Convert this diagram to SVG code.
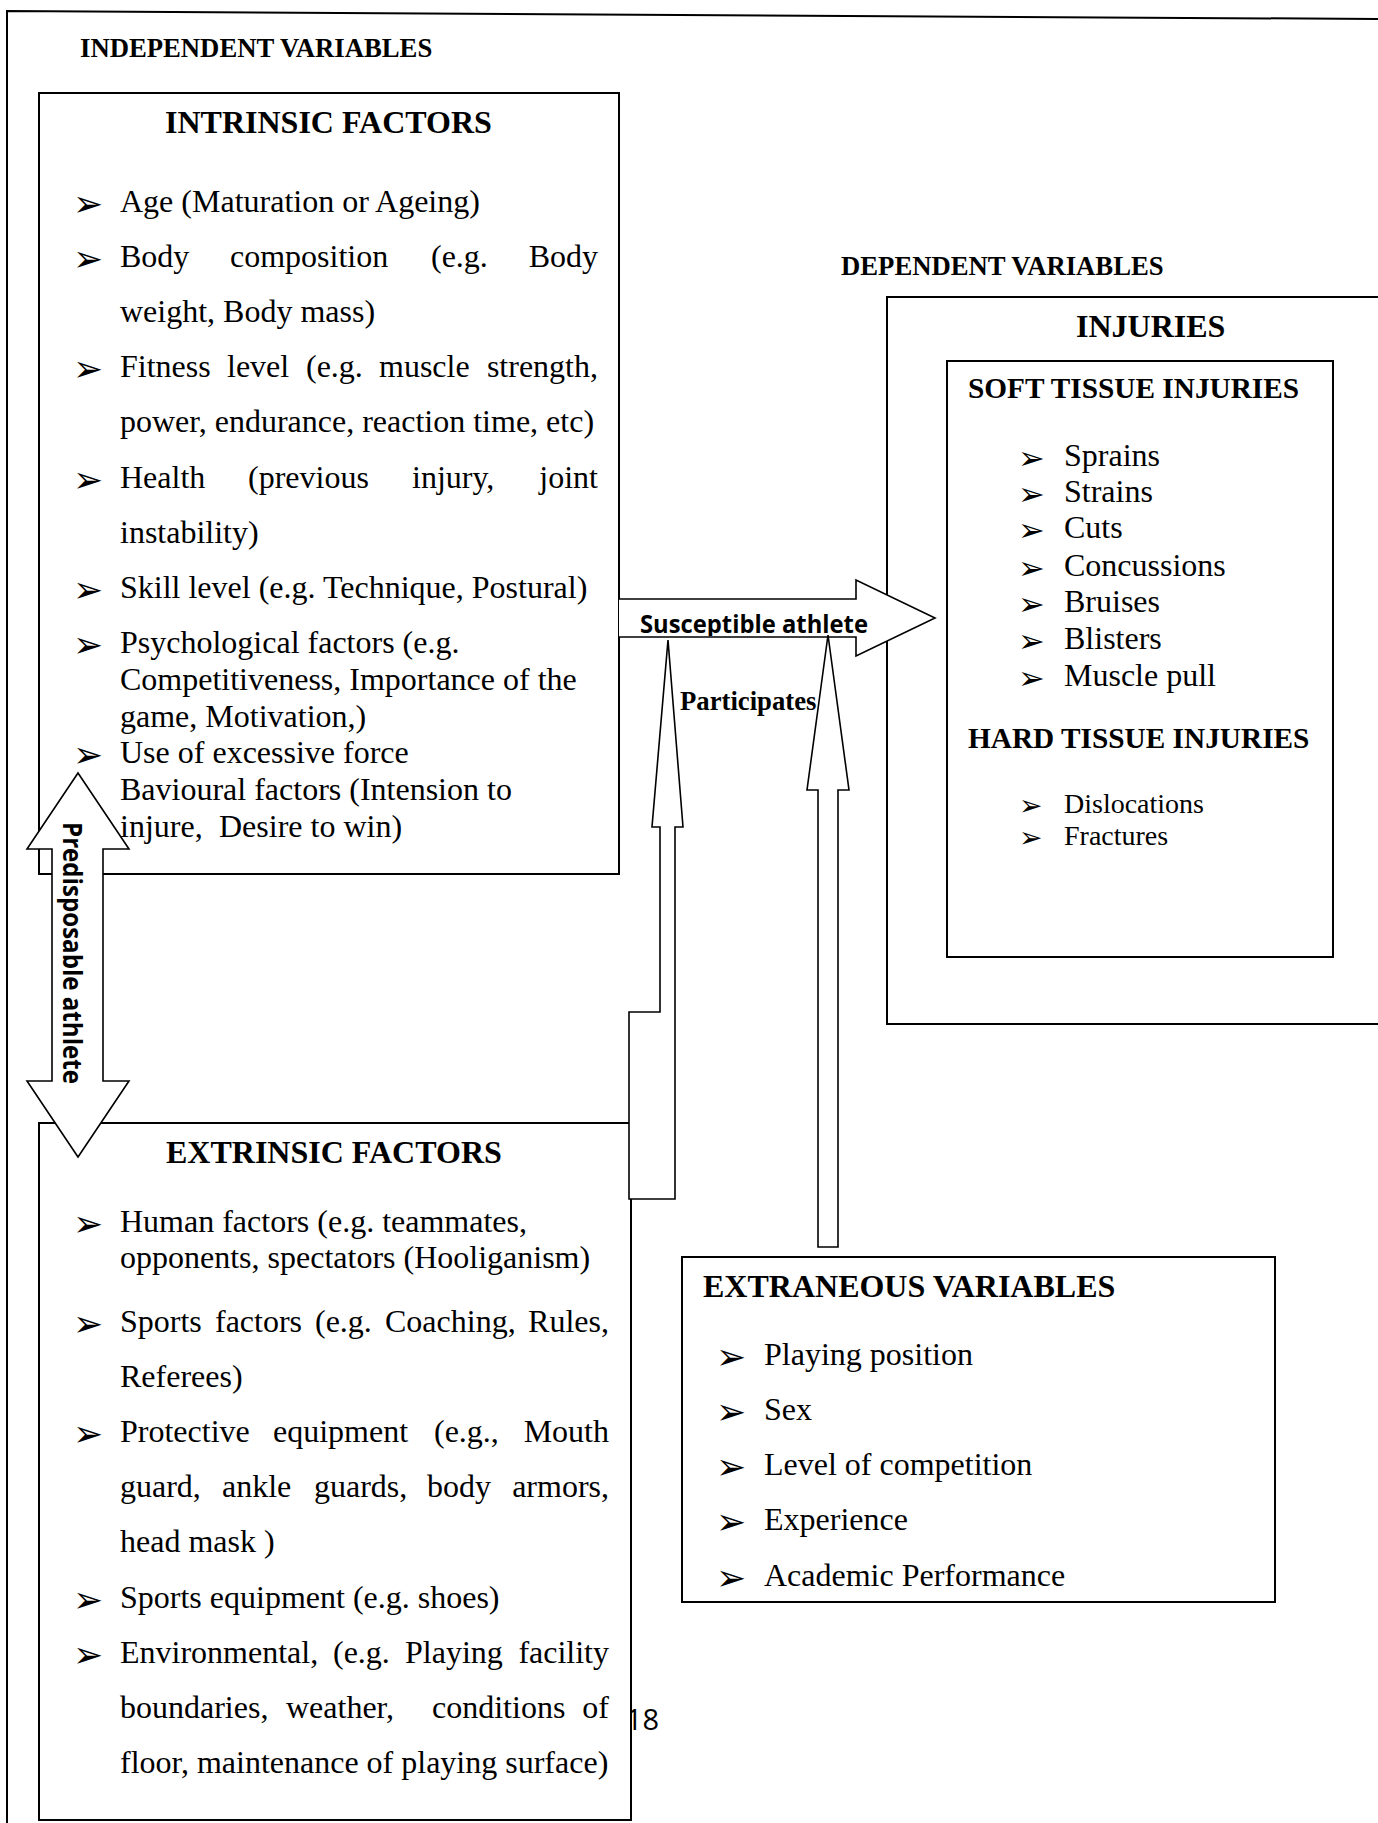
<svg xmlns="http://www.w3.org/2000/svg" width="1378" height="1823" viewBox="0 0 1378 1823">
<style>
.t{font-family:"Liberation Serif","Times New Roman",serif;font-size:32px;fill:#000}
.b{font-weight:bold}
.s10{font-size:26.7px}
.s11{font-size:29.3px}
.s28{font-size:28px}
.bul{font-family:"DejaVu Sans",sans-serif;font-size:36px;fill:#000}
.bs{font-size:32px}
.bh{font-size:28px}
.box{fill:#fff;stroke:#000;stroke-width:2}
.arr{fill:#fff;stroke:#000;stroke-width:1.6;stroke-linejoin:miter}
.lbl{font-family:"Open Sans","Liberation Sans",sans-serif;font-weight:bold;fill:#000}
.e{text-anchor:end}
</style>
<defs>
<clipPath id="cs"><rect x="619" y="600" width="320" height="36"/></clipPath>
</defs>
<rect x="0" y="0" width="1378" height="1823" fill="#fff"/>
<g id="page">
<path d="M7,1823 V11 L1378,19" fill="none" stroke="#000" stroke-width="2"/>
<text class="t b s10" x="80" y="57">INDEPENDENT VARIABLES</text>
<text class="t b s10" x="841" y="275">DEPENDENT VARIABLES</text>
<text x="659" y="1730" font-family="Open Sans, Liberation Sans, sans-serif" font-size="29" text-anchor="end">18</text>
</g>
<g id="intrinsic">
<rect class="box" x="39" y="93" width="580" height="781"/>
<text class="t b" x="165" y="133">INTRINSIC FACTORS</text>
<text class="bul"><tspan x="73" y="216">➢</tspan><tspan x="73" y="271">➢</tspan><tspan x="73" y="381">➢</tspan><tspan x="73" y="492">➢</tspan><tspan x="73" y="602">➢</tspan><tspan x="73" y="657">➢</tspan><tspan x="73" y="767">➢</tspan></text>
<text class="t" x="120" y="212">Age (Maturation or Ageing)</text>
<text class="t" y="267"><tspan x="120">Body</tspan><tspan x="230">composition</tspan><tspan x="431">(e.g.</tspan><tspan x="598" class="e">Body</tspan></text>
<text class="t" x="120" y="322">weight, Body mass)</text>
<text class="t" y="377"><tspan x="120">Fitness</tspan><tspan x="227">level</tspan><tspan x="306">(e.g.</tspan><tspan x="379">muscle</tspan><tspan x="598" class="e">strength,</tspan></text>
<text class="t" x="120" y="432">power, endurance, reaction time, etc)</text>
<text class="t" y="488"><tspan x="120">Health</tspan><tspan x="248">(previous</tspan><tspan x="412">injury,</tspan><tspan x="598" class="e">joint</tspan></text>
<text class="t" x="120" y="543">instability)</text>
<text class="t" x="120" y="598">Skill level (e.g. Technique, Postural)</text>
<text class="t" x="120" y="653">Psychological factors (e.g.</text>
<text class="t" x="120" y="690">Competitiveness, Importance of the</text>
<text class="t" x="120" y="727">game, Motivation,)</text>
<text class="t" x="120" y="763">Use of excessive force</text>
<text class="t" x="120" y="800">Bavioural factors (Intension to</text>
<text class="t" y="837"><tspan x="120">injure,</tspan><tspan x="219">Desire to win)</tspan></text>
</g>
<g id="extrinsic">
<rect class="box" x="39" y="1123" width="592" height="697"/>
<text class="t b" x="166" y="1163">EXTRINSIC FACTORS</text>
<text class="bul"><tspan x="73" y="1236">➢</tspan><tspan x="73" y="1336">➢</tspan><tspan x="73" y="1446">➢</tspan><tspan x="73" y="1612">➢</tspan><tspan x="73" y="1667">➢</tspan></text>
<text class="t" x="120" y="1232">Human factors (e.g. teammates,</text>
<text class="t" x="120" y="1268">opponents, spectators (Hooliganism)</text>
<text class="t" y="1332"><tspan x="120">Sports</tspan><tspan x="215">factors</tspan><tspan x="315">(e.g.</tspan><tspan x="385">Coaching,</tspan><tspan x="609" class="e">Rules,</tspan></text>
<text class="t" x="120" y="1387">Referees)</text>
<text class="t" y="1442"><tspan x="120">Protective</tspan><tspan x="273">equipment</tspan><tspan x="434">(e.g.,</tspan><tspan x="609" class="e">Mouth</tspan></text>
<text class="t" y="1497"><tspan x="120">guard,</tspan><tspan x="222">ankle</tspan><tspan x="314">guards,</tspan><tspan x="427">body</tspan><tspan x="609" class="e">armors,</tspan></text>
<text class="t" x="120" y="1552">head mask )</text>
<text class="t" x="120" y="1608">Sports equipment (e.g. shoes)</text>
<text class="t" y="1663"><tspan x="120">Environmental,</tspan><tspan x="333">(e.g.</tspan><tspan x="405">Playing</tspan><tspan x="609" class="e">facility</tspan></text>
<text class="t" y="1718"><tspan x="120">boundaries,</tspan><tspan x="286">weather,</tspan><tspan x="432">conditions</tspan><tspan x="609" class="e">of</tspan></text>
<text class="t" x="120" y="1773">floor, maintenance of playing surface)</text>
</g>
<g id="injuries">
<path d="M1380,297 H887 V1024 H1380" fill="#fff" stroke="#000" stroke-width="2"/>
<text class="t b" x="1076" y="337">INJURIES</text>
</g>
<g id="soft-hard-tissue">
<rect class="box" x="947" y="361" width="386" height="596"/>
<text class="t b s11" x="968" y="398">SOFT TISSUE INJURIES</text>
<text class="bul bs"><tspan x="1018" y="469">➢</tspan><tspan x="1018" y="505">➢</tspan><tspan x="1018" y="541">➢</tspan><tspan x="1018" y="579">➢</tspan><tspan x="1018" y="615">➢</tspan><tspan x="1018" y="652">➢</tspan><tspan x="1018" y="689">➢</tspan></text>
<text class="t" x="1064" y="466">Sprains</text>
<text class="t" x="1064" y="502">Strains</text>
<text class="t" x="1064" y="538">Cuts</text>
<text class="t" x="1064" y="576">Concussions</text>
<text class="t" x="1064" y="612">Bruises</text>
<text class="t" x="1064" y="649">Blisters</text>
<text class="t" x="1064" y="686">Muscle pull</text>
<text class="t b s11" x="968" y="748">HARD TISSUE INJURIES</text>
<text class="bul bh"><tspan x="1019" y="815">➢</tspan><tspan x="1019" y="847">➢</tspan></text>
<text class="t s28" x="1064" y="813">Dislocations</text>
<text class="t s28" x="1064" y="845">Fractures</text>
</g>
<g id="extraneous">
<rect class="box" x="682" y="1257" width="593" height="345"/>
<text class="t b" x="703" y="1297">EXTRANEOUS VARIABLES</text>
<text class="bul"><tspan x="716" y="1369">➢</tspan><tspan x="716" y="1424">➢</tspan><tspan x="716" y="1479">➢</tspan><tspan x="716" y="1534">➢</tspan><tspan x="716" y="1590">➢</tspan></text>
<text class="t" x="764" y="1365">Playing position</text>
<text class="t" x="764" y="1420">Sex</text>
<text class="t" x="764" y="1475">Level of competition</text>
<text class="t" x="764" y="1530">Experience</text>
<text class="t" x="764" y="1586">Academic Performance</text>
</g>
<g id="connectors">
<g id="susceptible-arrow">
<path class="arr" d="M619,599 H856 V580 L935,618 L856,656 V637 H619"/>
<text class="lbl" x="640" y="633" font-size="25" textLength="228" lengthAdjust="spacingAndGlyphs" clip-path="url(#cs)">Susceptible athlete</text>
</g>
<path id="participates-arrow" class="arr" d="M668,640 L683,827 H675 V1199 H629 V1012 H660 V827 H652 Z"/>
<text class="t b s10" x="680" y="710">Participates</text>
<path id="extraneous-arrow" class="arr" d="M828,635 L849,790 H838 V1247 H818 V790 H807 Z"/>
<g id="predisposable-arrow">
<path class="arr" d="M78,773 L129,849 H103 V1081 H129 L78,1157 L27,1081 H52 V849 H27 Z"/>
<text class="lbl" transform="translate(63,822) rotate(90)" x="0" y="0" font-size="27" textLength="262" lengthAdjust="spacingAndGlyphs">Predisposable athlete</text>
</g>
</g>
</svg>
